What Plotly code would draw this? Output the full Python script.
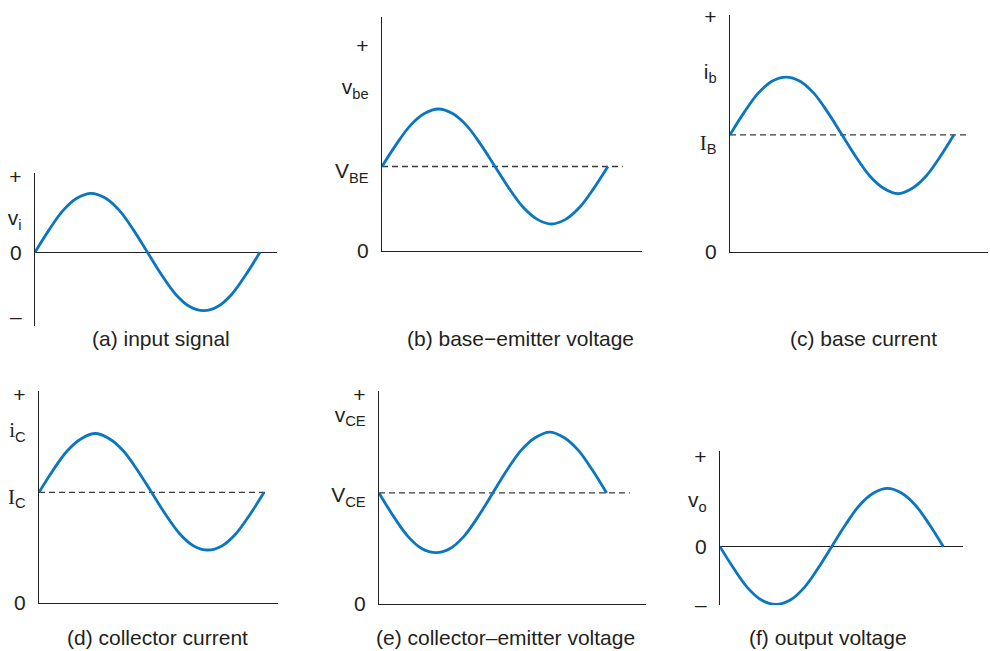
import plotly.graph_objects as go

# phase along one period of the signal
t = [0, 0.0625, 0.125, 0.1875, 0.25, 0.3125, 0.375, 0.4375, 0.5,
     0.5625, 0.625, 0.6875, 0.75, 0.8125, 0.875, 0.9375, 1]

# waveforms (units: one signal amplitude)
v_i = [0, 0.38, 0.71, 0.92, 1.0, 0.92, 0.71, 0.38, 0,
       -0.38, -0.71, -0.92, -0.99, -0.92, -0.71, -0.38, 0]
v_be = [1.47, 1.85, 2.18, 2.39, 2.47, 2.39, 2.18, 1.85, 1.47,
        1.09, 0.76, 0.55, 0.47, 0.55, 0.76, 1.09, 1.47]
i_b = [2.01, 2.39, 2.72, 2.93, 3.0, 2.93, 2.72, 2.39, 2.01,
       1.63, 1.30, 1.09, 1.0, 1.09, 1.30, 1.63, 2.01]
i_c = [1.90, 2.28, 2.61, 2.82, 2.91, 2.82, 2.61, 2.28, 1.90,
       1.52, 1.19, 0.98, 0.91, 0.98, 1.19, 1.52, 1.90]
v_ce = [1.84, 1.46, 1.13, 0.92, 0.85, 0.92, 1.13, 1.46, 1.84,
        2.22, 2.55, 2.76, 2.85, 2.76, 2.55, 2.22, 1.84]
v_o = [0, -0.38, -0.71, -0.92, -0.99, -0.92, -0.71, -0.38, 0,
       0.38, 0.71, 0.92, 1.0, 0.92, 0.71, 0.38, 0]

# quiescent (dc) levels
V_BE = 1.47
I_B = 2.01
I_C = 1.90
V_CE = 1.84

captions = ["(a) input signal", "(b) base\u2212emitter voltage", "(c) base current",
            "(d) collector current", "(e) collector\u2013emitter voltage", "(f) output voltage"]

SERIF = '<span style="font-family:\'Liberation Serif\', \'Times New Roman\', serif">'

ticks_a = [1.28, 0.58, 0, -1.09]
labels_a = ["+", "v<sub>i</sub>", "0", "\u2013"]
ticks_b = [3.565, 2.85, 1.39, 0]
labels_b = ["+", "v<sub>be</sub>", "V<sub>BE</sub>", "0"]
ticks_c = [4.03, 3.1, 1.88, 0]
labels_c = ["+", "i<sub>b</sub>", SERIF + "I</span><sub>B</sub>", "0"]
ticks_d = [3.57, 2.97, 1.83, 0]
labels_d = ["+", SERIF + "i</span><sub>C</sub>", SERIF + "I</span><sub>C</sub>", "0"]
ticks_e = [3.47, 3.14, 1.81, 0]
labels_e = ["+", "v<sub>CE</sub>", "V<sub>CE</sub>", "0"]
ticks_f = [1.54, 0.8, 0, -0.99]
labels_f = ["+", "v<sub>o</sub>", "0", "\u2013"]

W, H = 990, 651
INK = "#231f20"
BLUE = "#0a76c0"

panels = [
    dict(y=v_i, dc=None, dash_end=None, xlen=1.076, yr=[-1.249, 1.344],
         tv=ticks_a, tt=labels_a, box=(35, 277, 173, 326), mid=True, cap=(161, 338)),
    dict(y=v_be, dc=V_BE, dash_end=1.066, xlen=1.151, yr=[0, 4.07],
         tv=ticks_b, tt=labels_b, box=(382, 642, 17, 251), mid=False, cap=(520, 338)),
    dict(y=i_b, dc=I_B, dash_end=1.071, xlen=1.152, yr=[0, 4.065],
         tv=ticks_c, tt=labels_c, box=(730, 988, 15, 252), mid=False, cap=(863, 338)),
    dict(y=i_c, dc=I_C, dash_end=1.016, xlen=1.062, yr=[0, 3.64],
         tv=ticks_d, tt=labels_d, box=(39, 278, 391, 603), mid=False, cap=(157, 637)),
    dict(y=v_ce, dc=V_CE, dash_end=1.102, xlen=1.173, yr=[0, 3.53],
         tv=ticks_e, tt=labels_e, box=(379, 646, 391, 604), mid=False, cap=(506, 637)),
    dict(y=v_o, dc=None, dash_end=None, xlen=1.088, yr=[-1.0, 1.64],
         tv=ticks_f, tt=labels_f, box=(720, 963, 451, 605), mid=True, cap=(828, 637)),
]

fig = go.Figure()
annotations = []

for i, p in enumerate(panels):
    n = "" if i == 0 else str(i + 1)
    xa, ya = "x" + n, "y" + n
    x0, x1, y0, y1 = p["box"]

    if p["dc"] is not None:
        fig.add_trace(go.Scatter(
            x=[0, p["dash_end"]], y=[p["dc"], p["dc"]], xaxis=xa, yaxis=ya,
            mode="lines", line=dict(color="#3a3a3a", width=1.3, dash="6px,4px"),
            hoverinfo="skip", showlegend=False))

    fig.add_trace(go.Scatter(
        x=t, y=p["y"], xaxis=xa, yaxis=ya, mode="lines",
        line=dict(color=BLUE, width=2.8, shape="spline", smoothing=1),
        showlegend=False))

    fig.layout["xaxis" + n] = dict(
        domain=[x0 / W, x1 / W], range=[0, p["xlen"]], anchor=ya,
        showline=not p["mid"], linecolor=INK, linewidth=1.4,
        showgrid=False, zeroline=False, showticklabels=False, ticks="",
        automargin=False)
    fig.layout["yaxis" + n] = dict(
        domain=[1 - y1 / H, 1 - y0 / H], range=p["yr"], anchor=xa,
        showline=True, linecolor=INK, linewidth=1.4,
        showgrid=False, zeroline=p["mid"], zerolinecolor=INK, zerolinewidth=1.4,
        tickmode="array", tickvals=p["tv"], ticktext=p["tt"], ticks="",
        ticklabelstandoff=8, automargin=False,
        tickfont=dict(family="Liberation Sans, Arial, sans-serif", size=21, color=INK))

    annotations.append(dict(
        text=captions[i], xref="paper", yref="paper",
        x=p["cap"][0] / W, y=1 - p["cap"][1] / H, showarrow=False,
        xanchor="center", yanchor="middle",
        font=dict(family="Liberation Sans, Arial, sans-serif", size=21, color=INK)))

fig.update_layout(
    width=W, height=H, margin=dict(l=0, r=0, t=0, b=0, pad=0, autoexpand=False),
    paper_bgcolor="white", plot_bgcolor="white",
    annotations=annotations, showlegend=False)

fig.write_html("out.html", config={"displayModeBar": False},
               post_script="document.body.style.margin='0';document.body.style.overflow='hidden';")
